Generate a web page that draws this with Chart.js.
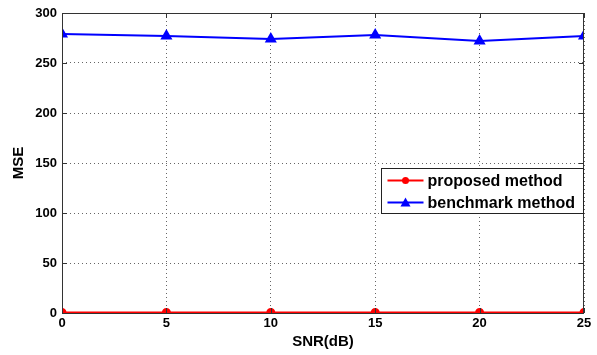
<!DOCTYPE html>
<html>
<head>
<meta charset="utf-8">
<script src="https://cdn.jsdelivr.net/npm/chart.js@4"></script>
<style>
  html, body { margin: 0; padding: 0; background: #fff; }
  #wrap { width: 597px; height: 355px; }
</style>
</head>
<body>
<div id="wrap"><canvas id="c" width="597" height="355"></canvas></div>
<script>
const snr = [0, 5, 10, 15, 20, 25];
const proposed = [0.5, 0.5, 0.5, 0.5, 0.5, 0.5];
const benchmark = [279, 277, 274, 278, 272, 277];
const yTicks = [0, 50, 100, 150, 200, 250, 300];

const FONT = { family: 'Liberation Sans, Arial, sans-serif', size: 13, weight: 'bold' };
const TITLE_FONT = { family: 'Liberation Sans, Arial, sans-serif', size: 15, weight: 'bold' };

// box, inward ticks and legend like matlab
const matlabBits = {
  id: 'matlabBits',
  afterDatasetsDraw(chart) {
    const { ctx, chartArea: a, scales } = chart;
    ctx.save();
    ctx.strokeStyle = '#333';
    ctx.lineWidth = 1;
    ctx.strokeRect(a.left + 0.5, a.top + 0.5, a.right - a.left - 1, a.bottom - a.top);
    ctx.beginPath();
    snr.forEach(v => {
      const x = Math.round(scales.x.getPixelForValue(v)) + 0.5;
      ctx.moveTo(x, a.bottom); ctx.lineTo(x, a.bottom - 5);
      ctx.moveTo(x, a.top); ctx.lineTo(x, a.top + 5);
    });
    yTicks.forEach(v => {
      const y = Math.round(scales.y.getPixelForValue(v)) + 0.5;
      ctx.moveTo(a.left, y); ctx.lineTo(a.left + 5, y);
      ctx.moveTo(a.right, y); ctx.lineTo(a.right - 5, y);
    });
    ctx.stroke();

    // legend
    const bx = 381.5, by = 168.5, bw = 202, bh = 45;
    ctx.fillStyle = '#fff';
    ctx.fillRect(bx, by, bw, bh);
    ctx.strokeStyle = '#222';
    ctx.strokeRect(bx, by, bw, bh);
    ctx.font = 'bold 16px Liberation Sans, Arial, sans-serif';
    ctx.textBaseline = 'middle';
    chart.data.datasets.forEach((ds, i) => {
      const y = by + 12 + i * 22;
      ctx.strokeStyle = ds.borderColor;
      ctx.lineWidth = 2;
      ctx.beginPath();
      ctx.moveTo(bx + 6, y); ctx.lineTo(bx + 42, y);
      ctx.stroke();
      ctx.fillStyle = ds.borderColor;
      ctx.beginPath();
      if (ds.pointStyle === 'triangle') {
        ctx.moveTo(bx + 24, y - 5); ctx.lineTo(bx + 29, y + 4); ctx.lineTo(bx + 19, y + 4);
      } else {
        ctx.arc(bx + 24, y, 3.5, 0, Math.PI * 2);
      }
      ctx.fill();
      ctx.fillStyle = '#000';
      ctx.fillText(ds.label, bx + 46, y + 1);
    });
    ctx.restore();
  }
};

new Chart(document.getElementById('c'), {
  type: 'line',
  data: {
    labels: snr,
    datasets: [{
      label: 'proposed method',
      data: proposed,
      borderColor: '#ff0000',
      backgroundColor: '#ff0000',
      borderWidth: 2,
      pointStyle: 'circle',
      pointRadius: 3.5,
      tension: 0
    }, {
      label: 'benchmark method',
      data: benchmark,
      borderColor: '#0000ff',
      backgroundColor: '#0000ff',
      borderWidth: 2,
      pointStyle: 'triangle',
      pointRadius: 5,
      tension: 0
    }]
  },
  options: {
    responsive: false,
    animation: false,
    layout: { padding: { top: 13, right: 13, left: 0, bottom: 0 } },
    plugins: { legend: { display: false }, tooltip: { enabled: false } },
    scales: {
      x: {
        type: 'linear',
        min: 0, max: 25,
        afterFit(s) { s.height = 42; },
        afterBuildTicks(s) { s.ticks = snr.map(v => ({ value: v })); },
        grid: { color: '#666', lineWidth: 1, drawTicks: false },
        border: { display: false, dash: [1, 3] },
        ticks: { color: '#000', font: FONT, padding: 3, maxRotation: 0 },
        title: { display: true, text: 'SNR(dB)', color: '#000', font: TITLE_FONT, padding: { top: 2 } }
      },
      y: {
        min: 0, max: 300,
        afterFit(s) { s.width = 62; },
        afterBuildTicks(s) { s.ticks = yTicks.map(v => ({ value: v })); },
        grid: { color: '#666', lineWidth: 1, drawTicks: false },
        border: { display: false, dash: [1, 3] },
        ticks: { color: '#000', font: FONT, padding: 5 },
        title: { display: true, text: 'MSE', color: '#000', font: TITLE_FONT, padding: { top: 10, bottom: 0 } }
      }
    }
  },
  plugins: [matlabBits]
});
</script>
</body>
</html>
